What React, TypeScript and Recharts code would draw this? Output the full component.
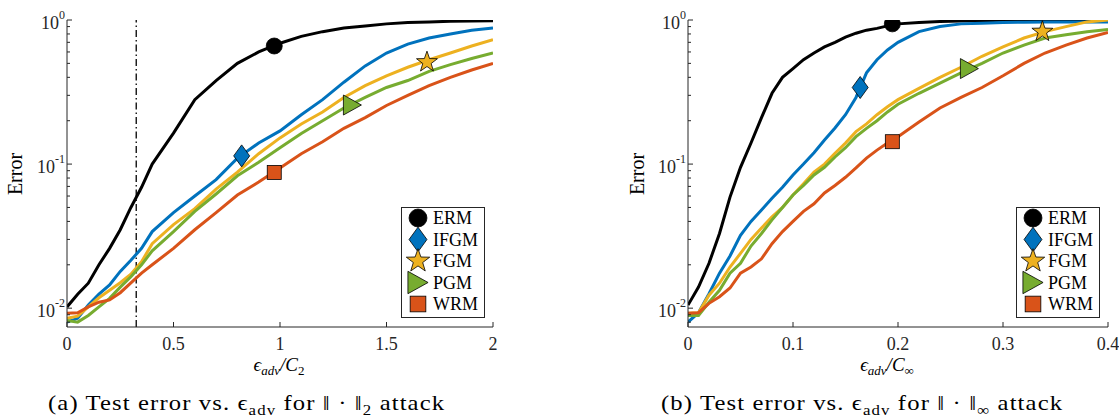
import React from 'react';
import { ComposedChart, Line, Scatter, XAxis, YAxis, ReferenceLine, Legend } from 'recharts';

const NAMES = ['ERM', 'IFGM', 'FGM', 'PGM', 'WRM'];
const COLORS = ['#000000', '#0072BD', '#EDB120', '#77AC30', '#D95319'];
const SHAPES = ['circle', 'diamond', 'star', 'triangle', 'square'];

// (a) ||.||_2 attack
const X_L = [0, 0.05, 0.1, 0.15, 0.2, 0.25, 0.3, 0.35, 0.4, 0.5, 0.6, 0.7, 0.8, 0.9, 1.0, 1.1, 1.2, 1.3, 1.4, 1.5, 1.6, 1.7, 1.8, 1.9, 2.0];
const ERM_L = [0.0102, 0.0125, 0.0149, 0.02, 0.026, 0.035, 0.05, 0.069, 0.1, 0.164, 0.28, 0.38, 0.5, 0.6, 0.69, 0.77, 0.83, 0.88, 0.91, 0.94, 0.96, 0.97, 0.98, 0.985, 0.99];
const IFGM_L = [0.008, 0.0085, 0.0105, 0.0125, 0.0145, 0.018, 0.0215, 0.026, 0.034, 0.046, 0.06, 0.078, 0.11, 0.14, 0.17, 0.22, 0.28, 0.37, 0.48, 0.59, 0.68, 0.75, 0.8, 0.85, 0.88];
const FGM_L = [0.0085, 0.0088, 0.0102, 0.0118, 0.0133, 0.015, 0.0172, 0.021, 0.028, 0.038, 0.049, 0.067, 0.088, 0.118, 0.152, 0.19, 0.23, 0.29, 0.35, 0.41, 0.47, 0.53, 0.59, 0.66, 0.73];
const PGM_L = [0.0082, 0.008, 0.0089, 0.0102, 0.0117, 0.014, 0.0165, 0.02, 0.025, 0.034, 0.047, 0.062, 0.083, 0.103, 0.13, 0.163, 0.2, 0.245, 0.29, 0.34, 0.38, 0.44, 0.49, 0.54, 0.59];
const WRM_L = [0.0092, 0.0093, 0.0102, 0.011, 0.0114, 0.0128, 0.015, 0.0175, 0.02, 0.026, 0.035, 0.046, 0.061, 0.075, 0.094, 0.118, 0.143, 0.177, 0.21, 0.255, 0.3, 0.35, 0.4, 0.45, 0.5];
const MARK_X_L = [0.973, 0.82, 1.69, 1.34, 0.973];
const MARK_Y_L = [0.66, 0.114, 0.51, 0.257, 0.0875];
const VLINE_X = 0.325;

// (b) ||.||_inf attack
const X_R = [0, 0.01, 0.02, 0.03, 0.04, 0.05, 0.06, 0.07, 0.08, 0.09, 0.1, 0.11, 0.12, 0.13, 0.14, 0.15, 0.16, 0.17, 0.18, 0.19, 0.2, 0.22, 0.24, 0.26, 0.28, 0.3, 0.32, 0.34, 0.36, 0.38, 0.4];
const ERM_R = [0.0105, 0.014, 0.0205, 0.033, 0.059, 0.095, 0.14, 0.21, 0.31, 0.4, 0.46, 0.53, 0.59, 0.65, 0.7, 0.76, 0.81, 0.85, 0.875, 0.91, 0.94, 0.96, 0.975, 0.985, 0.99, 0.995, 0.997, 0.998, 0.999, 0.999, 1.0];
const IFGM_R = [0.008, 0.0093, 0.0126, 0.0175, 0.023, 0.032, 0.04, 0.048, 0.058, 0.069, 0.084, 0.1, 0.12, 0.147, 0.178, 0.22, 0.29, 0.43, 0.53, 0.62, 0.7, 0.83, 0.9, 0.94, 0.95, 0.96, 0.965, 0.97, 0.97, 0.97, 0.97];
const FGM_R = [0.0092, 0.0093, 0.0123, 0.0149, 0.0193, 0.024, 0.03, 0.036, 0.043, 0.05, 0.061, 0.073, 0.088, 0.1, 0.119, 0.14, 0.168, 0.19, 0.22, 0.25, 0.28, 0.335, 0.4, 0.47, 0.56, 0.65, 0.75, 0.83, 0.9, 0.97, 1.0];
const PGM_R = [0.0089, 0.0089, 0.011, 0.0133, 0.0175, 0.0205, 0.027, 0.033, 0.041, 0.05, 0.061, 0.071, 0.084, 0.095, 0.112, 0.13, 0.155, 0.177, 0.2, 0.23, 0.26, 0.31, 0.365, 0.43, 0.5, 0.59, 0.67, 0.75, 0.79, 0.83, 0.86];
const WRM_R = [0.0092, 0.0093, 0.0108, 0.012, 0.0138, 0.0175, 0.0193, 0.022, 0.028, 0.034, 0.04, 0.047, 0.053, 0.063, 0.071, 0.081, 0.094, 0.11, 0.125, 0.14, 0.155, 0.196, 0.245, 0.29, 0.34, 0.41, 0.5, 0.59, 0.67, 0.75, 0.82];
const MARK_X_R = [0.1946, 0.164, 0.3375, 0.268, 0.1946];
const MARK_Y_R = [0.94, 0.34, 0.83, 0.46, 0.143];

const X_TICKS_L = [0, 0.5, 1, 1.5, 2];
const X_TICKS_R = [0, 0.1, 0.2, 0.3, 0.4];
const Y_MAJOR = [0.01, 0.1, 1];
const Y_EXP = ['-2', '-1', '0'];
const Y_TICKS = [0.008, 0.009, 0.01, 0.02, 0.03, 0.04, 0.05, 0.06, 0.07, 0.08, 0.09, 0.1, 0.2, 0.3, 0.4, 0.5, 0.6, 0.7, 0.8, 0.9, 1];
const Y_DOMAIN = [0.0074, 1];

const FONT = '"Liberation Serif", "DejaVu Serif", serif';
const AXIS = '#262626';

const rows = (xs: number[], ys: number[]) => xs.map((x, i) => ({ x, y: ys[i] }));

function Marker({ kind, cx, cy, fill, k = 1 }: any) {
  const s = { fill, stroke: '#000', strokeWidth: 0.8 };
  if (kind === 'circle') return <circle cx={cx} cy={cy} r={8 * k} {...s} />;
  if (kind === 'square') return <rect x={cx - 7 * k} y={cy - 7 * k} width={14 * k} height={14 * k} {...s} />;
  if (kind === 'diamond') {
    const w = 8 * k, h = 11 * k;
    return <polygon points={`${cx},${cy - h} ${cx + w},${cy} ${cx},${cy + h} ${cx - w},${cy}`} {...s} />;
  }
  if (kind === 'triangle') {
    const w = 9 * k, h = 10 * k;
    return <polygon points={`${cx - w},${cy - h} ${cx + w},${cy} ${cx - w},${cy + h}`} {...s} />;
  }
  // pentagram
  const pts: string[] = [];
  for (let i = 0; i < 10; i++) {
    const r = (i % 2 === 0 ? 11 : 4.4) * k;
    const a = -Math.PI / 2 + (i * Math.PI) / 5;
    pts.push(`${cx + r * Math.cos(a)},${cy + r * Math.sin(a)}`);
  }
  return <polygon points={pts.join(' ')} {...s} />;
}

const YTick = ({ x, y, payload }: any) => {
  const idx = Y_MAJOR.indexOf(payload.value);
  const major = idx >= 0;
  return (
    <g>
      <line x1={x} x2={x + (major ? 5 : 3)} y1={y} y2={y} stroke={AXIS} />
      {major && (
        <text x={x - 2} y={y + 9} textAnchor="end" fontFamily={FONT} fontSize={18} fill={AXIS}>
          10<tspan dy={-10} fontSize={12}>{Y_EXP[idx]}</tspan>
        </text>
      )}
    </g>
  );
};

const XTick = ({ x, y, payload }: any) => (
  <g>
    <line x1={x} x2={x} y1={y} y2={y - 5} stroke={AXIS} />
    <text x={x} y={y + 23} textAnchor="middle" fontFamily={FONT} fontSize={18} fill={AXIS}>
      {String(payload.value)}
    </text>
  </g>
);

const LegendBox = () => (
  <div style={{ width: 84, height: 111, boxSizing: 'border-box', border: `1px solid ${AXIS}`, background: '#fff', position: 'relative' }}>
    <svg width={84} height={111} style={{ position: 'absolute', left: -1, top: -1, overflow: 'visible' }}>
      {NAMES.map((n, i) => (
        <g key={n}>
          <Marker kind={SHAPES[i]} cx={17} cy={11 + i * 21.5} fill={COLORS[i]} k={1.12} />
          <text x={32} y={11 + i * 21.5 + 6} fontFamily={FONT} fontSize={18} fill="#000">{n}</text>
        </g>
      ))}
    </svg>
  </div>
);

function Panel({ left, width, marginRight, yWidth, xs, series, markX, markY, xTicks, xMax, legendLeft, vline }: any) {
  return (
    <div style={{ position: 'absolute', left, top: 0 }}>
      <ComposedChart width={width} height={380} margin={{ top: 20, right: marginRight, bottom: 0, left: 0 }}>
        <XAxis
          type="number"
          dataKey="x"
          domain={[0, xMax]}
          ticks={xTicks}
          interval={0}
          height={53}
          tickSize={0}
          tickMargin={0}
          tickLine={false}
          axisLine={{ stroke: AXIS }}
          tick={<XTick />}
          allowDataOverflow
        />
        <YAxis
          type="number"
          scale="log"
          domain={Y_DOMAIN}
          ticks={Y_TICKS}
          interval={0}
          width={yWidth}
          tickSize={0}
          tickMargin={0}
          tickLine={false}
          axisLine={{ stroke: AXIS }}
          tick={<YTick />}
          allowDataOverflow
        />
        {vline !== undefined && (
          <ReferenceLine x={vline} stroke="#000" strokeWidth={1.3} strokeDasharray="7 3 1.5 3" />
        )}
        {series.map((ys: number[], i: number) => (
          <Line
            key={NAMES[i]}
            data={rows(xs, ys)}
            dataKey="y"
            type="linear"
            stroke={COLORS[i]}
            strokeWidth={3}
            dot={false}
            isAnimationActive={false}
          />
        ))}
        {series.map((_: any, i: number) => (
          <Scatter
            key={'m' + NAMES[i]}
            data={[{ x: markX[i], y: markY[i] }]}
            dataKey="y"
            isAnimationActive={false}
            shape={(p: any) => <Marker kind={SHAPES[i]} cx={p.cx} cy={p.cy} fill={COLORS[i]} />}
          />
        ))}
        <Legend
          layout="horizontal"
          verticalAlign="middle"
          align="center"
          wrapperStyle={{ left: legendLeft, top: 207, width: 84, height: 111 }}
          content={() => <LegendBox />}
        />
      </ComposedChart>
    </div>
  );
}

const txt: React.CSSProperties = { position: 'absolute', fontFamily: FONT, color: '#000', whiteSpace: 'nowrap', lineHeight: 1 };
const sub = (size: number): React.CSSProperties => ({ fontSize: size, verticalAlign: 'baseline', position: 'relative', top: '0.3em' });
const caption: React.CSSProperties = { ...txt, top: 392, fontSize: 22, letterSpacing: 1, transform: 'scaleX(1.12)', transformOrigin: 'left center' };

export default function App() {
  return (
    <div style={{ position: 'absolute', left: 0, top: 0, width: 1119, height: 416, background: '#fff', overflow: 'hidden' }}>
      <Panel
        left={0}
        width={520}
        marginRight={27}
        yWidth={67}
        xs={X_L}
        series={[ERM_L, IFGM_L, FGM_L, PGM_L, WRM_L]}
        markX={MARK_X_L}
        markY={MARK_Y_L}
        xTicks={X_TICKS_L}
        xMax={2}
        legendLeft={401}
        vline={VLINE_X}
      />
      <Panel
        left={620}
        width={499}
        marginRight={11}
        yWidth={68}
        xs={X_R}
        series={[ERM_R, IFGM_R, FGM_R, PGM_R, WRM_R]}
        markX={MARK_X_R}
        markY={MARK_Y_R}
        xTicks={X_TICKS_R}
        xMax={0.4}
        legendLeft={396}
      />
      <div style={{ ...txt, left: 15, top: 174, fontSize: 20, transform: 'translate(-50%,-50%) rotate(-90deg)' }}>Error</div>
      <div style={{ ...txt, left: 637, top: 174, fontSize: 20, transform: 'translate(-50%,-50%) rotate(-90deg)' }}>Error</div>
      <div style={{ ...txt, left: 279, top: 364, fontSize: 19, transform: 'translate(-50%,-50%)' }}>
        <i>ϵ<span style={sub(13)}>adv</span>/C</i><span style={sub(13)}>2</span>
      </div>
      <div style={{ ...txt, left: 887, top: 364, fontSize: 19, transform: 'translate(-50%,-50%)' }}>
        <i>ϵ<span style={sub(13)}>adv</span>/C</i><span style={sub(13)}>∞</span>
      </div>
      <div style={{ ...caption, left: 48 }}>
        (a) Test error vs. ϵ<span style={sub(15)}>adv</span> for ‖ · ‖<span style={sub(15)}>2</span> attack
      </div>
      <div style={{ ...caption, left: 661 }}>
        (b) Test error vs. ϵ<span style={sub(15)}>adv</span> for ‖ · ‖<span style={sub(15)}>∞</span> attack
      </div>
    </div>
  );
}
